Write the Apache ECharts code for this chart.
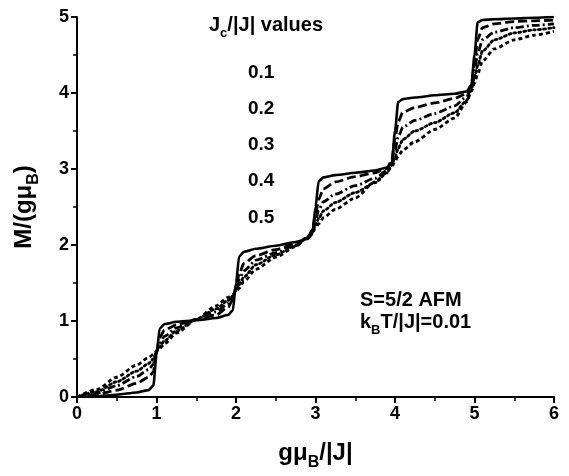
<!DOCTYPE html>
<html>
<head>
<meta charset="utf-8">
<script src="https://cdn.jsdelivr.net/npm/echarts@6/dist/echarts.min.js"></script>
<style>
  html, body { margin: 0; padding: 0; background: #fff; }
  #chart { width: 569px; height: 476px; }
</style>
</head>
<body>
<div id="chart"></div>
<script>
// Field values g*muB*B/|J| shared by all curves
const fieldValues = [0, 0.25, 0.5, 0.75, 0.9, 0.96, 1.0, 1.04, 1.1, 1.25, 1.5, 1.75, 1.9, 1.96,
  2.0, 2.04, 2.1, 2.25, 2.5, 2.75, 2.9, 2.96, 3.0, 3.04, 3.1, 3.25, 3.5, 3.75, 3.9, 3.96,
  4.0, 4.04, 4.1, 4.25, 4.5, 4.75, 4.9, 4.96, 5.0, 5.04, 5.1, 5.25, 5.5, 5.75, 6.0];

// Magnetization M/(g muB) for each Jc/|J|
const mJc01 = [0, 0.01, 0.03, 0.06, 0.09, 0.15, 0.55, 0.9, 0.96, 0.99, 1.01, 1.04, 1.08, 1.14,
  1.5, 1.85, 1.91, 1.95, 1.99, 2.04, 2.08, 2.14, 2.5, 2.84, 2.89, 2.92, 2.95, 2.98, 3.02, 3.08,
  3.5, 3.88, 3.92, 3.94, 3.97, 3.99, 4.02, 4.1, 4.5, 4.93, 4.96, 4.97, 4.98, 4.99, 5.0];
const mJc02 = [0, 0.03, 0.09, 0.18, 0.26, 0.33, 0.6, 0.78, 0.88, 0.95, 1.02, 1.08, 1.18, 1.28,
  1.45, 1.62, 1.76, 1.86, 1.94, 2.02, 2.09, 2.2, 2.4, 2.6, 2.74, 2.83, 2.9, 2.95, 3.01, 3.12,
  3.4, 3.62, 3.75, 3.81, 3.87, 3.93, 3.99, 4.1, 4.4, 4.7, 4.86, 4.91, 4.94, 4.95, 4.96];
const mJc03 = [0, 0.05, 0.15, 0.27, 0.36, 0.43, 0.6, 0.7, 0.8, 0.91, 1.02, 1.12, 1.23, 1.31,
  1.42, 1.55, 1.66, 1.8, 1.9, 2.0, 2.1, 2.18, 2.32, 2.46, 2.57, 2.67, 2.78, 2.88, 2.98, 3.08,
  3.25, 3.42, 3.55, 3.64, 3.73, 3.83, 3.95, 4.08, 4.3, 4.52, 4.7, 4.8, 4.86, 4.89, 4.91];
const mJc04 = [0, 0.07, 0.2, 0.34, 0.44, 0.5, 0.6, 0.66, 0.74, 0.87, 1.02, 1.16, 1.27, 1.33,
  1.4, 1.48, 1.58, 1.74, 1.87, 1.99, 2.1, 2.17, 2.26, 2.35, 2.45, 2.56, 2.69, 2.82, 2.95, 3.05,
  3.15, 3.27, 3.39, 3.5, 3.61, 3.74, 3.9, 4.05, 4.2, 4.36, 4.55, 4.7, 4.79, 4.83, 4.86];
const mJc05 = [0, 0.1, 0.26, 0.42, 0.52, 0.56, 0.6, 0.64, 0.7, 0.84, 1.02, 1.2, 1.31, 1.35,
  1.38, 1.43, 1.52, 1.68, 1.84, 1.98, 2.1, 2.16, 2.22, 2.28, 2.36, 2.47, 2.62, 2.83, 2.97, 3.03,
  3.1, 3.17, 3.25, 3.36, 3.52, 3.67, 3.88, 4.02, 4.13, 4.25, 4.42, 4.58, 4.7, 4.76, 4.81];

const jcLabels = ['0.1', '0.2', '0.3', '0.4', '0.5'];
const curves = [mJc01, mJc02, mJc03, mJc04, mJc05];
const dashStyles = ['solid', [9, 4], [8, 3, 2, 3], [2, 3], [4, 3]];
const xTicks = [0, 1, 2, 3, 4, 5, 6];
const yTicks = [0, 1, 2, 3, 4, 5];

const FONT = '"Liberation Sans", Arial, sans-serif';
const chart = echarts.init(document.getElementById('chart'), null, { renderer: 'canvas' });

const axisCommon = {
  axisLine: { show: true, lineStyle: { color: '#000', width: 2 } },
  axisTick: { show: true, inside: false, length: 6, lineStyle: { color: '#000', width: 2 } },
  minorTick: { show: true, splitNumber: 2, length: 4, lineStyle: { color: '#000', width: 1.5 } },
  splitLine: { show: false },
  axisLabel: { color: '#000', fontFamily: FONT, fontWeight: 'bold', fontSize: 18, margin: 8 }
};

// rich-text styles: t = normal text, s = subscript
function subRich(size) {
  return {
    t: { fontFamily: FONT, fontWeight: 'bold', fontSize: size, color: '#000', lineHeight: Math.round(size * 1.5) },
    s: { fontFamily: FONT, fontWeight: 'bold', fontSize: Math.round(size * 0.65), color: '#000',
         lineHeight: Math.round(size * 1.5), verticalAlign: 'bottom' }
  };
}

const series = curves.map((arr, i) => ({
  name: jcLabels[i],
  type: 'line',
  showSymbol: false,
  smooth: 0.25,
  smoothMonotone: 'x',
  data: fieldValues.map((x, k) => [x, arr[k]]),
  lineStyle: { color: '#000', width: i === 0 ? 2.6 : 2.8, type: dashStyles[i], cap: i === 3 ? 'round' : 'butt' },
  z: 10 - i
}));

const graphics = [
  {
    type: 'text', left: 209, top: 15,
    style: { text: '{t|J}{s|c}{t|/|J| values}', rich: subRich(20) }
  },
  {
    type: 'text', left: 360, top: 290,
    style: { text: 'S=5/2 AFM', fontFamily: FONT, fontWeight: 'bold', fontSize: 20, fill: '#000' }
  },
  {
    type: 'text', left: 360, top: 312,
    style: { text: '{t|k}{s|B}{t|T/|J|=0.01}', rich: subRich(20) }
  }
];
jcLabels.forEach((lab, i) => {
  graphics.push({
    type: 'text', left: 248, top: 63 + i * 36.2,
    style: { text: lab, fontFamily: FONT, fontWeight: 'bold', fontSize: 19, fill: '#000' }
  });
});

chart.setOption({
  animation: false,
  backgroundColor: '#fff',
  grid: { left: 77, right: 15, top: 17, bottom: 73, containLabel: false },
  xAxis: Object.assign({}, axisCommon, {
    type: 'value', min: xTicks[0], max: xTicks[xTicks.length - 1], interval: 1,
    name: '{t|gμ}{s|B}{t|/|J|}',
    nameLocation: 'middle', nameGap: 38,
    nameTextStyle: { rich: subRich(24) }
  }),
  yAxis: Object.assign({}, axisCommon, {
    type: 'value', min: yTicks[0], max: yTicks[yTicks.length - 1], interval: 1,
    name: '{t|M/(gμ}{s|B}{t|)}',
    nameLocation: 'middle', nameGap: 35, nameRotate: 90,
    nameTextStyle: { rich: subRich(24) }
  }),
  graphic: graphics,
  series: series
});
</script>
</body>
</html>
